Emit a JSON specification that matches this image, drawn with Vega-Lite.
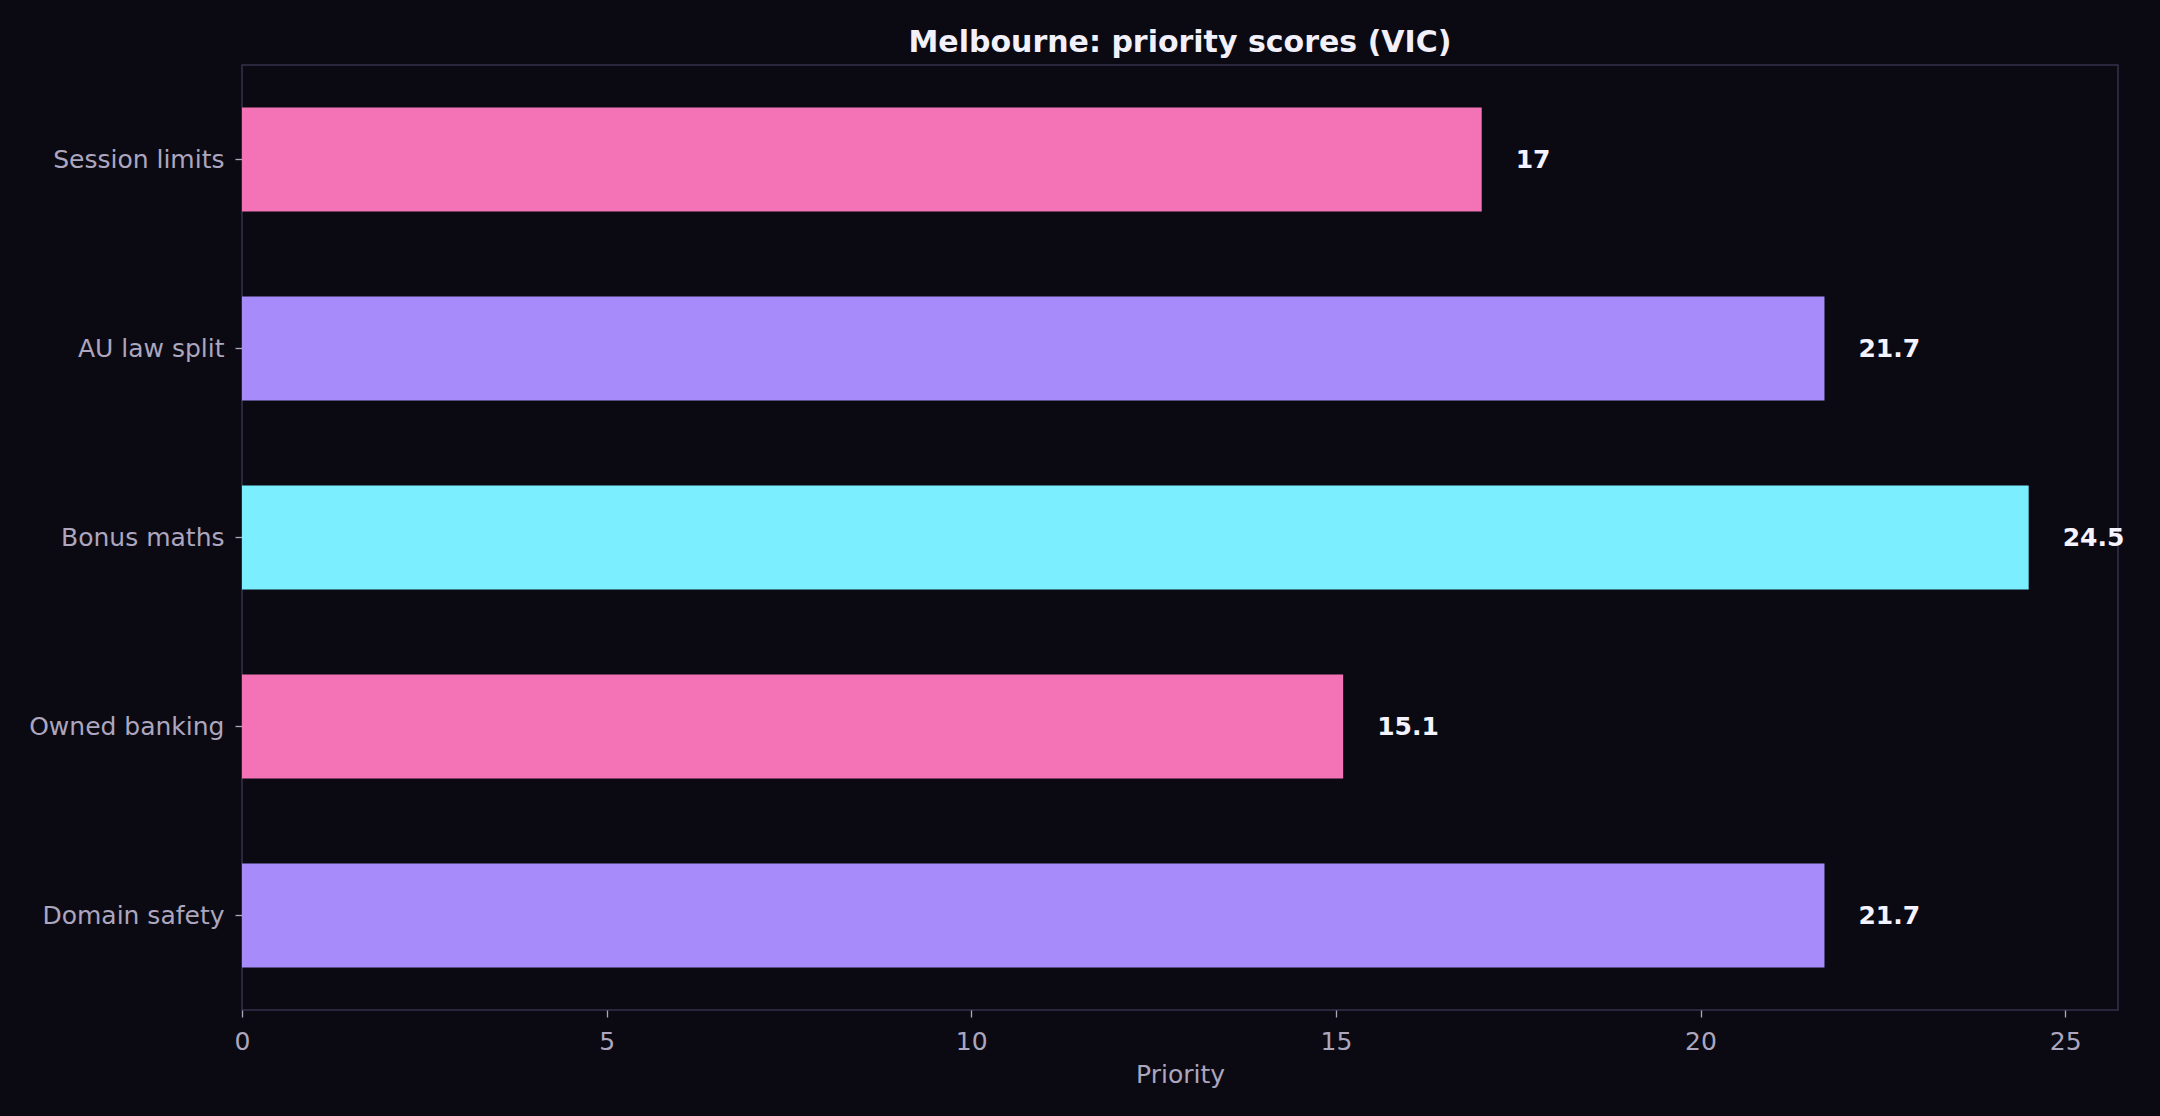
{
  "$schema": "https://vega.github.io/schema/vega-lite/v6.json",
  "width": 1876,
  "height": 945,
  "autosize": {"type": "none"},
  "padding": {"left": 242, "top": 65, "right": 42, "bottom": 106},
  "background": "#0b0a12",
  "title": {
    "text": "Melbourne: priority scores (VIC)",
    "anchor": "middle",
    "font": "DejaVu Sans",
    "fontSize": 30,
    "fontWeight": "bold",
    "color": "#f2f0fa",
    "offset": 7
  },
  "data": {
    "values": [
      {"task": "Session limits", "priority": 17},
      {"task": "AU law split", "priority": 21.7},
      {"task": "Bonus maths", "priority": 24.5},
      {"task": "Owned banking", "priority": 15.1},
      {"task": "Domain safety", "priority": 21.7}
    ]
  },
  "encoding": {
    "y": {
      "field": "task",
      "type": "nominal",
      "sort": null,
      "title": null,
      "scale": {"paddingInner": 0.45, "paddingOuter": 0.225},
      "axis": {"labelPadding": 11, "labelLimit": 400}
    },
    "x": {
      "field": "priority",
      "type": "quantitative",
      "title": "Priority",
      "scale": {"domain": [0, 25.725], "nice": false},
      "axis": {"values": [0, 5, 10, 15, 20, 25], "labelPadding": 12, "labelFlush": false, "titlePadding": 8}
    }
  },
  "layer": [
    {
      "mark": {"type": "bar"},
      "encoding": {
        "color": {
          "field": "task",
          "type": "nominal",
          "legend": null,
          "scale": {
            "domain": ["Session limits", "AU law split", "Bonus maths", "Owned banking", "Domain safety"],
            "range": ["#f472b6", "#a78bfa", "#7beeff", "#f472b6", "#a78bfa"]
          }
        }
      }
    },
    {
      "mark": {
        "type": "text",
        "align": "left",
        "baseline": "middle",
        "dx": 34,
        "font": "DejaVu Sans",
        "fontSize": 25,
        "fontWeight": "bold",
        "color": "#f5f3ff"
      },
      "encoding": {"text": {"field": "priority", "type": "quantitative", "format": "~g"}}
    }
  ],
  "config": {
    "view": {"stroke": "#34314c", "strokeWidth": 1.5},
    "axis": {
      "grid": false,
      "domain": false,
      "tickColor": "#aca6bf",
      "tickSize": 7,
      "tickWidth": 1.3,
      "labelFont": "DejaVu Sans",
      "labelFontSize": 25,
      "labelColor": "#aca6bf",
      "titleFont": "DejaVu Sans",
      "titleFontSize": 25,
      "titleFontWeight": "normal",
      "titleColor": "#aca6bf"
    }
  }
}
